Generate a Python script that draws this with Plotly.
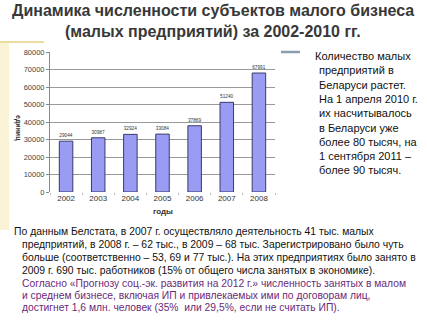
import plotly.graph_objects as go

years = ["2002", "2003", "2004", "2005", "2006", "2007", "2008"]
counts = [29044, 30987, 32924, 33084, 37869, 51240, 67991]
y_ticks = [0, 10000, 20000, 30000, 40000, 50000, 60000, 70000, 80000]

title_lines = ["Динамика численности субъектов малого бизнеса",
               "(малых предприятий) за 2002-2010 гг."]
side_lines = ["Количество малых", "предприятий в", "Беларуси растет.",
              "На 1 апреля 2010 г.", "их насчитывалось", "в Беларуси уже",
              "более 80 тысяч, на", "1 сентября 2011 –", "более 90 тысяч."]
black_lines = ["По данным Белстата, в 2007 г. осуществляло деятельность 41 тыс. малых",
               "предприятий, в 2008 г. – 62 тыс., в 2009 – 68 тыс. Зарегистрировано было чуть",
               "больше (соответственно – 53, 69 и 77 тыс.). На этих предприятиях было занято в",
               "2009 г. 690 тыс. работников (15% от общего числа занятых в экономике)."]
purple_lines = ["Согласно «Прогнозу соц.-эк. развития на 2012 г.» численность занятых в малом",
                "и среднем бизнесе, включая ИП и привлекаемых ими по договорам лиц,",
                "достигнет 1,6 млн. человек (35%  или 29,5%, если не считать ИП)."]

W, H = 427, 320
L, R, T, B = 50, 275, 52, 192

def px(x):
    return (x - L) / (R - L)

def py(y):
    return (B - y) / (B - T)

fig = go.Figure()
fig.add_trace(go.Bar(
    x=years, y=counts, width=0.42,
    marker=dict(color="#9a9cf4", line=dict(color="#3a3a6a", width=1)),
    text=[str(v) for v in counts], textposition="outside",
    textfont=dict(size=8, color="#333333", family="Liberation Sans"),
    cliponaxis=False,
))

ann = []
font = "Liberation Sans"
for i, s in enumerate(title_lines):
    ann.append(dict(text="<b>%s</b>" % s, x=px(213), y=py(11 + 20 * i), xref="paper", yref="paper",
                    xanchor="center", yanchor="middle", showarrow=False,
                    font=dict(size=16, color="#383838", family=font)))
for i, s in enumerate(side_lines):
    x0 = 313 if i == 0 else 317
    ann.append(dict(text=s, x=px(x0), y=py(56 + 14.3 * i), xref="paper", yref="paper",
                    xanchor="left", yanchor="middle", showarrow=False,
                    font=dict(size=11, color="#111111", family=font)))
for i, s in enumerate(black_lines):
    x0 = 12 if i == 0 else 20
    ann.append(dict(text=s, x=px(x0), y=py(231 + 13 * i), xref="paper", yref="paper",
                    xanchor="left", yanchor="middle", showarrow=False,
                    font=dict(size=10.4, color="#111111", family=font)))
for i, s in enumerate(purple_lines):
    ann.append(dict(text=s, x=px(20), y=py(283 + 12 * i), xref="paper", yref="paper",
                    xanchor="left", yanchor="middle", showarrow=False,
                    font=dict(size=10.3, color="#6a2a7a", family=font)))
ann.append(dict(text="<b>годы</b>", x=px(163), y=py(211), xref="paper", yref="paper",
                xanchor="center", yanchor="middle", showarrow=False,
                font=dict(size=8, color="#333333", family=font)))
ann.append(dict(text="<b>единиц</b>", x=px(18), y=py(128), xref="paper", yref="paper",
                xanchor="center", yanchor="middle", showarrow=False, textangle=90,
                font=dict(size=7, color="#333333", family=font)))

shapes = [
    dict(type="rect", xref="paper", yref="paper", x0=px(0), x1=px(9), y0=py(230), y1=py(42),
         fillcolor="#fbf3d6", line=dict(width=0), layer="below"),
    dict(type="line", xref="paper", yref="paper", x0=px(0), x1=px(44), y0=py(42), y1=py(42),
         line=dict(color="#ecdca0", width=2)),
    dict(type="line", xref="paper", yref="paper", x0=px(281), x1=px(300), y0=py(52), y1=py(52),
         line=dict(color="#8c9cb0", width=2.5)),
]

fig.update_layout(
    width=W, height=H,
    margin=dict(l=L, r=W - R, t=T, b=H - B),
    paper_bgcolor="white", plot_bgcolor="white",
    showlegend=False, bargap=0.58,
    annotations=ann, shapes=shapes,
    xaxis=dict(type="category", tickfont=dict(size=8, color="#333333", family=font),
               ticks="outside", tickson="boundaries", ticklen=2, tickcolor="#bbbbbb",
               showline=False, showgrid=False),
    yaxis=dict(range=[0, 80000], tickvals=y_ticks, ticktext=[str(v) for v in y_ticks],
               tickfont=dict(size=7.5, color="#444444", family=font),
               ticks="outside", ticklen=3, tickcolor="#888888",
               showline=True, linecolor="#888888", linewidth=1,
               showgrid=True, gridcolor="#999999", gridwidth=1, zeroline=False),
)

fig.write_html("out.html")
